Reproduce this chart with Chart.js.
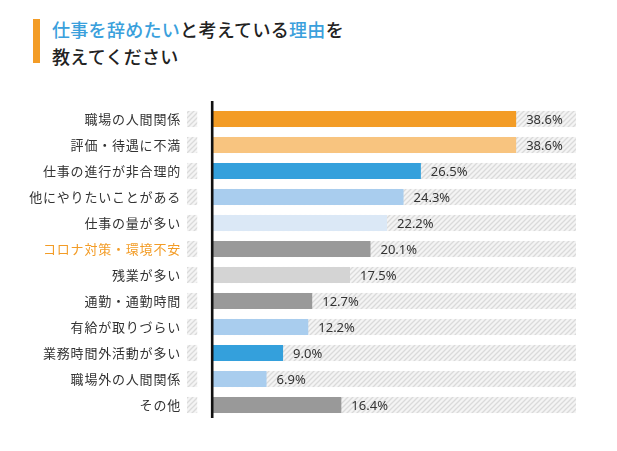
<!DOCTYPE html>
<html><head><meta charset="utf-8">
<script src="https://cdn.jsdelivr.net/npm/chart.js@4"></script>
<style>
html,body{margin:0;padding:0;background:#fff;}
#wrap{position:relative;width:617px;height:451px;}
#bar{position:absolute;left:33px;top:19px;width:7px;height:44px;background:#f39c26;}
#title{position:absolute;left:52px;top:16px;font-family:"Noto Sans CJK JP";font-size:18px;font-weight:500;line-height:27px;color:#222;letter-spacing:0.3px;}
#title .b{color:#3aa0dc;}
canvas{position:absolute;left:0;top:0;}
</style></head>
<body><div id="wrap">
<div id="bar"></div>
<div id="title"><span class="b">仕事を辞めたい</span>と考えている<span class="b">理由</span>を<br>教えてください</div>
<canvas id="c" width="617" height="451"></canvas>
</div>
<script>
const categories = ["職場の人間関係","評価・待遇に不満","仕事の進行が非合理的","他にやりたいことがある","仕事の量が多い","コロナ対策・環境不安","残業が多い","通勤・通勤時間","有給が取りづらい","業務時間外活動が多い","職場外の人間関係","その他"];
const values = [38.6, 38.6, 26.5, 24.3, 22.2, 20.1, 17.5, 12.7, 12.2, 9.0, 6.9, 16.4];
const barColors = ["#f39c26","#f8c47f","#34a0dc","#a9cdee","#dbe8f6","#999999","#d4d4d4","#999999","#a9cdee","#34a0dc","#a9cdee","#999999"];
const labelColors = categories.map(c => c === "コロナ対策・環境不安" ? "#f39c26" : "#333333");
const X_MIN = -3.2, X_MAX = 46.2, STUB_END = -1.9;

function hatch(){
  const s = 5, c = document.createElement('canvas'); c.width = s; c.height = s;
  const g = c.getContext('2d');
  g.fillStyle = '#f4f4f4'; g.fillRect(0,0,s,s);
  g.strokeStyle = '#dadada'; g.lineWidth = 1.3;
  g.beginPath();
  g.moveTo(-1,s+1); g.lineTo(s+1,-1);
  g.moveTo(-1,1); g.lineTo(1,-1);
  g.moveTo(s-1,s+1); g.lineTo(s+1,s-1);
  g.stroke();
  return g.createPattern(c,'repeat');
}

const trackPlugin = {
  id:'track',
  beforeDraw(chart){ chart.ctx.letterSpacing = '0.8px'; },
  beforeDatasetsDraw(chart){
    const ctx = chart.ctx, x = chart.scales.x, meta = chart.getDatasetMeta(0);
    ctx.save();
    ctx.fillStyle = hatch();
    meta.data.forEach(bar => {
      const h = bar.height, top = bar.y - h/2;
      const a = x.getPixelForValue(X_MIN), b = x.getPixelForValue(STUB_END);
      ctx.fillRect(a, top, b - a, h);
      const c0 = x.getPixelForValue(0), c1 = x.getPixelForValue(X_MAX);
      ctx.fillRect(c0, top, c1 - c0, h);
    });
    ctx.restore();
  },
  afterDatasetsDraw(chart){
    const ctx = chart.ctx, x = chart.scales.x, ca = chart.chartArea, meta = chart.getDatasetMeta(0);
    ctx.save();
    ctx.letterSpacing = '0px';
    ctx.font = '13px "Noto Sans"';
    ctx.fillStyle = '#333';
    ctx.textBaseline = 'middle';
    ctx.textAlign = 'left';
    meta.data.forEach((bar, i) => {
      ctx.fillText(values[i].toFixed(1) + '%', bar.x + 10, bar.y + 1);
    });
    const x0 = x.getPixelForValue(0);
    ctx.strokeStyle = '#111';
    ctx.lineWidth = 2.6;
    ctx.beginPath();
    ctx.moveTo(x0, ca.top - 5);
    ctx.lineTo(x0, ca.bottom);
    ctx.stroke();
    ctx.restore();
  }
};

new Chart(document.getElementById('c'), {
  type:'bar',
  data:{ labels: categories, datasets:[{ data: values, backgroundColor: barColors, borderWidth:0, barPercentage:0.62, categoryPercentage:1 }]},
  options:{
    indexAxis:'y', responsive:false, animation:false,
    layout:{ padding:{ top:106, bottom:33, right:41, left:0 } },
    plugins:{ legend:{display:false}, tooltip:{enabled:false} },
    scales:{
      x:{ display:false, min:X_MIN, max:X_MAX },
      y:{
        grid:{display:false, drawTicks:false}, border:{display:false},
        afterFit(s){ s.width = 187; },
        ticks:{ padding:6, color:(c)=>labelColors[c.index], font:{ family:'"Noto Sans CJK JP"', size:13 } }
      }
    }
  },
  plugins:[trackPlugin]
});
</script>
</body></html>
